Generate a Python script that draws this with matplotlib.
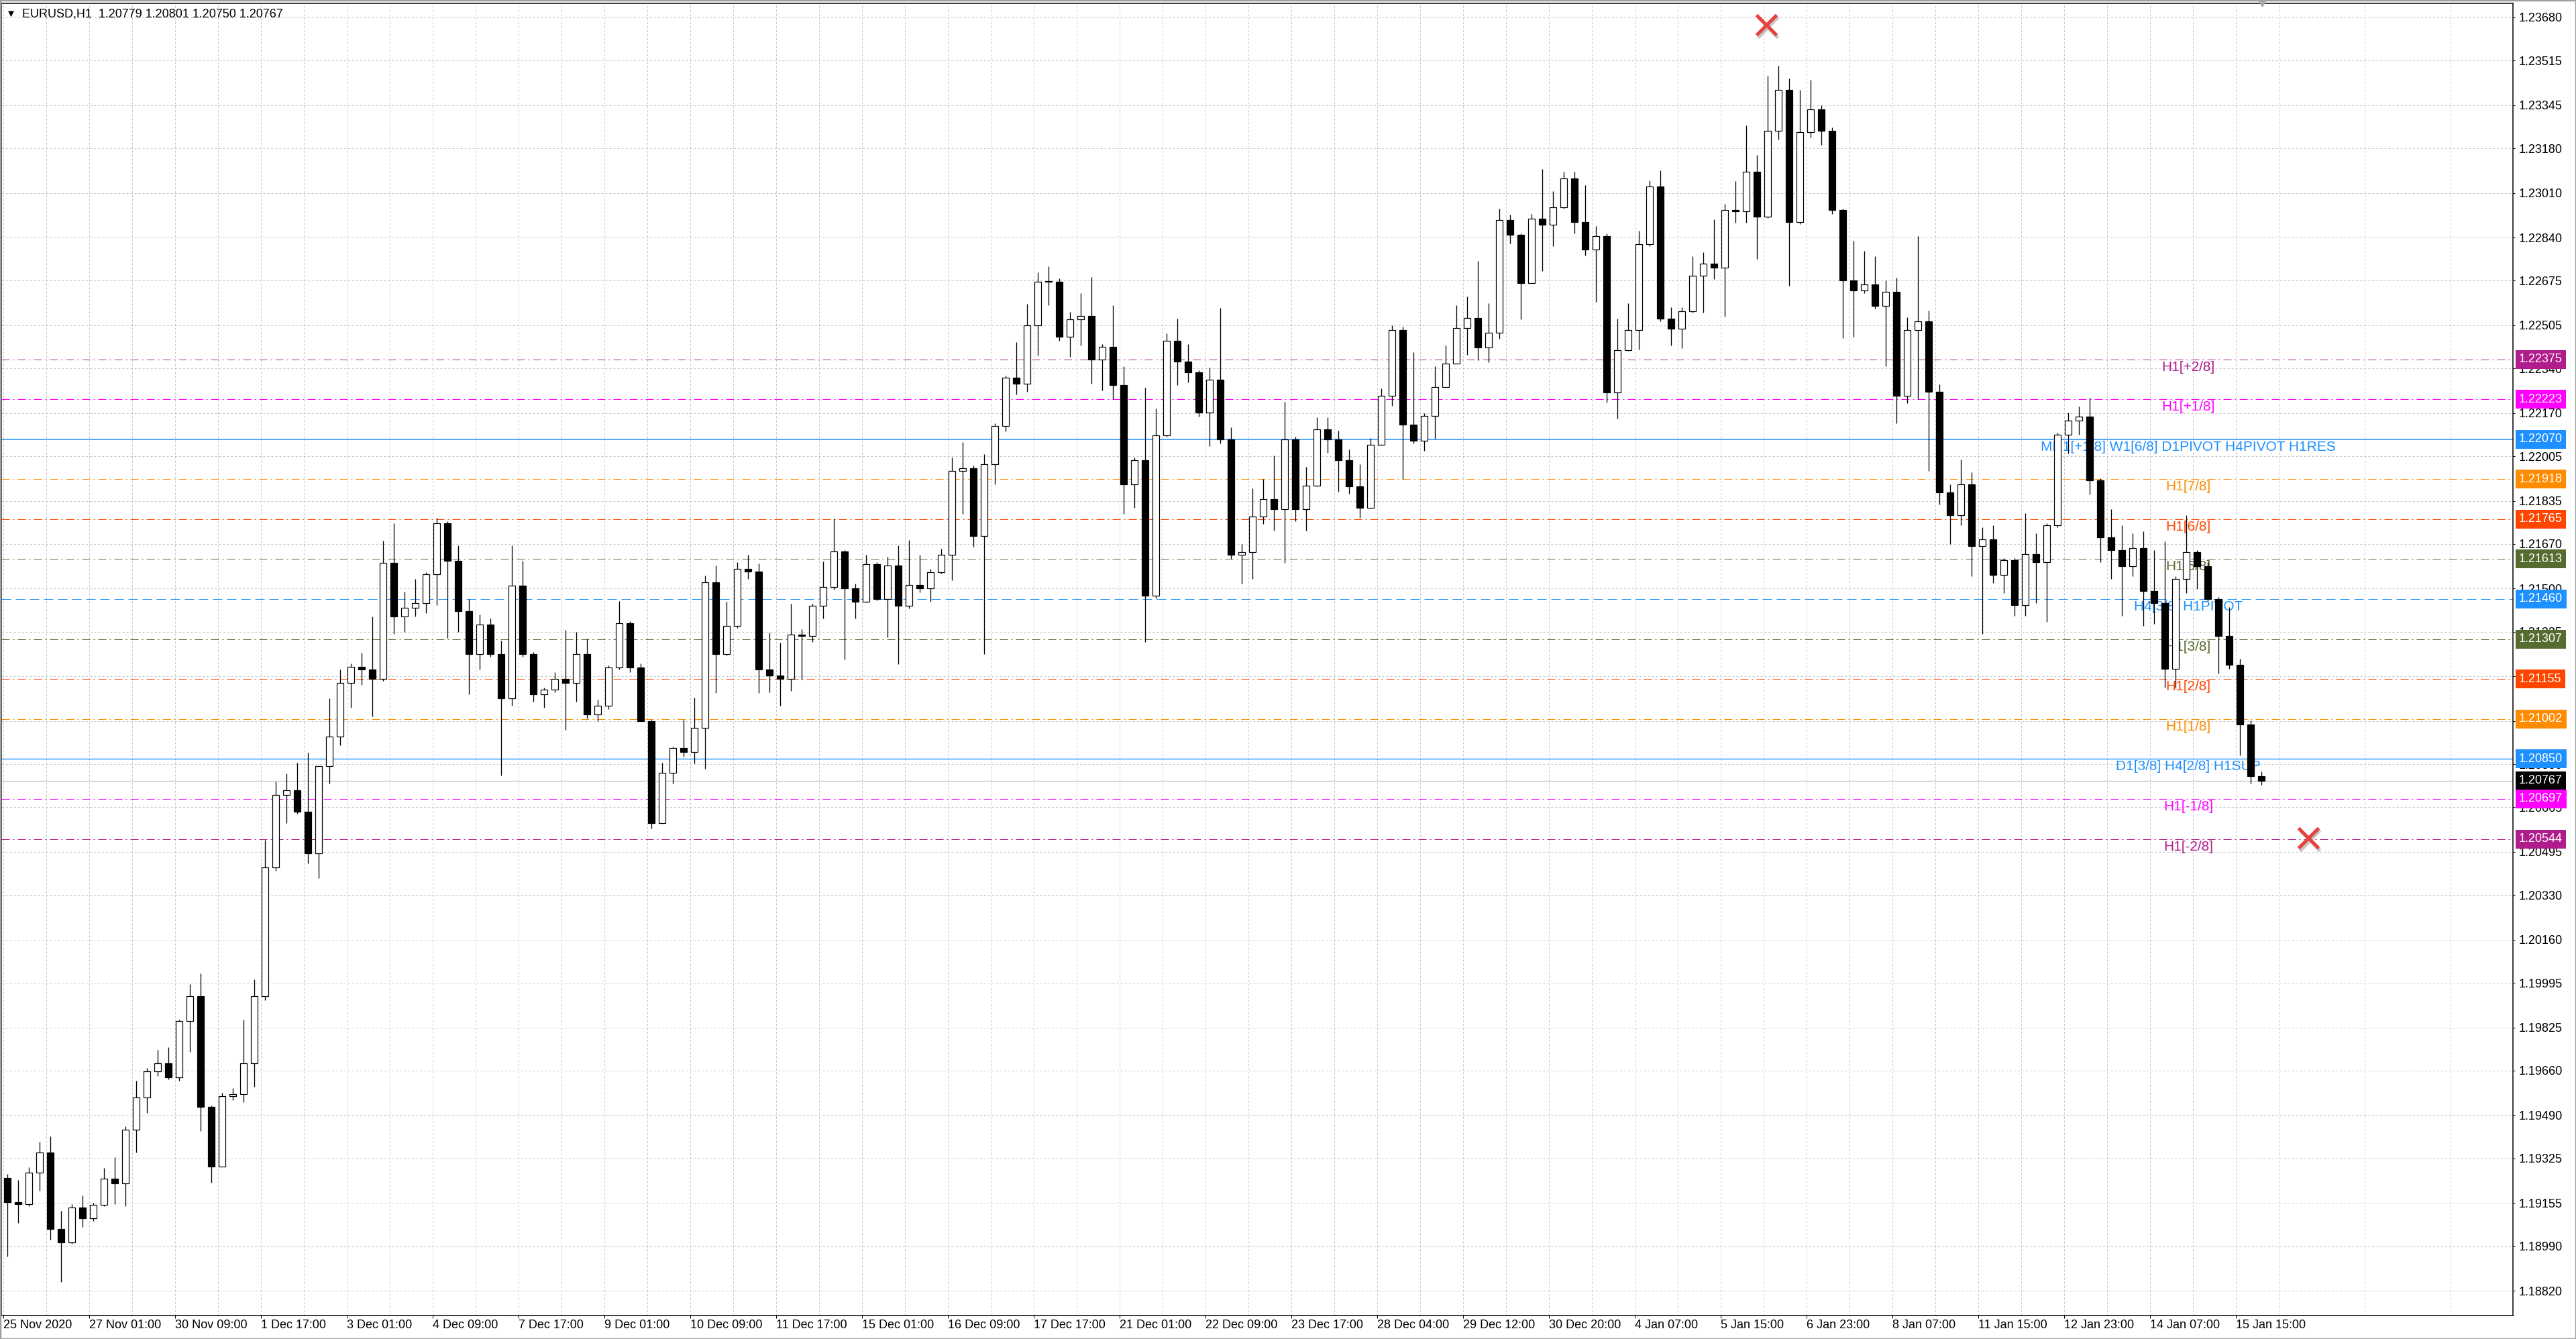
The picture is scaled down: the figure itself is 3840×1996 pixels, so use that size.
import matplotlib
matplotlib.use("Agg")
import matplotlib.pyplot as plt
import matplotlib.patheffects as pe
from matplotlib.patches import Rectangle
import numpy as np

plt.rcParams['font.family'] = ['Liberation Sans', 'DejaVu Sans']

# ------------------------------------------------------------------ data
header_text = "EURUSD,H1  1.20779 1.20801 1.20750 1.20767"
bars_per_candle = 4          # each drawn candle aggregates 4 H1 bars
first_open = 1.19250

candle_high = [
    1.19265, 1.19242, 1.19291, 1.19389, 1.19409, 1.19124, 1.19151, 1.19183, 1.19156, 1.19288,
    1.19329, 1.19448, 1.19621, 1.19670, 1.19740, 1.19749, 1.19854, 1.19991, 1.20032, 1.19526,
    1.19576, 1.19594, 1.19854, 1.20009, 1.20541, 1.20763, 1.20793, 1.20836, 1.20874, 1.20823,
    1.21080, 1.21190, 1.21215, 1.21255, 1.21393, 1.21682, 1.21750, 1.21487, 1.21538, 1.21563,
    1.21770, 1.21758, 1.21665, 1.21461, 1.21402, 1.21385, 1.21300, 1.21665, 1.21606, 1.21258,
    1.21122, 1.21182, 1.21343, 1.21334, 1.21309, 1.21075, 1.21207, 1.21453, 1.21376, 1.21215,
    1.20998, 1.20836, 1.20896, 1.20998, 1.21084, 1.21549, 1.21587, 1.21451, 1.21600, 1.21630,
    1.21596, 1.21331, 1.21293, 1.21442, 1.21344, 1.21442, 1.21604, 1.21767, 1.21647, 1.21519,
    1.21630, 1.21600, 1.21622, 1.21664, 1.21685, 1.21630, 1.21575, 1.21652, 1.22000, 1.22060,
    1.21969, 1.22014, 1.22131, 1.22313, 1.22440, 1.22586, 1.22708, 1.22730, 1.22683, 1.22556,
    1.22627, 1.22688, 1.22434, 1.22581, 1.22348, 1.21999, 1.22267, 1.22186, 1.22475, 1.22531,
    1.22434, 1.22333, 1.22343, 1.22571, 1.22116, 1.21670, 1.21883, 1.21918, 1.22009, 1.22212,
    1.22080, 1.21965, 1.22154, 1.22154, 1.22102, 1.22031, 1.21974, 1.22074, 1.22263, 1.22505,
    1.22500, 1.22401, 1.22169, 1.22349, 1.22429, 1.22581, 1.22614, 1.22751, 1.22590, 1.22950,
    1.22926, 1.22855, 1.22931, 1.23101, 1.23016, 1.23092, 1.23092, 1.23040, 1.22884, 1.22855,
    1.22531, 1.22590, 1.22865, 1.23059, 1.23097, 1.22574, 1.22574, 1.22768, 1.22784, 1.22908,
    1.22968, 1.23054, 1.23269, 1.23156, 1.23458, 1.23496, 1.23447, 1.23404, 1.23442, 1.23345,
    1.23259, 1.22951, 1.22827, 1.22790, 1.22768, 1.22677, 1.22687, 1.22536, 1.22844, 1.22560,
    1.22280, 1.21898, 1.21993, 1.21945, 1.21734, 1.21742, 1.21616, 1.21616, 1.21789, 1.21710,
    1.21749, 1.22094, 1.22173, 1.22196, 1.22228, 1.21922, 1.21804, 1.21742, 1.21710, 1.21718,
    1.21648, 1.21679, 1.21546, 1.21781, 1.21648, 1.21600, 1.21467, 1.21428, 1.21232, 1.20997,
    1.20801,
]

candle_low = [
    1.18950, 1.19078, 1.19142, 1.19201, 1.19014, 1.18854, 1.19000, 1.19064, 1.19087, 1.19142,
    1.19151, 1.19142, 1.19347, 1.19498, 1.19640, 1.19626, 1.19621, 1.19731, 1.19430, 1.19233,
    1.19293, 1.19548, 1.19539, 1.19599, 1.19930, 1.20422, 1.20605, 1.20640, 1.20452, 1.20396,
    1.20755, 1.20901, 1.21046, 1.21131, 1.21012, 1.21148, 1.21326, 1.21334, 1.21393, 1.21407,
    1.21436, 1.21312, 1.21334, 1.21097, 1.21190, 1.21241, 1.20786, 1.21054, 1.21241, 1.21068,
    1.21046, 1.21105, 1.20960, 1.21068, 1.21003, 1.20995, 1.21041, 1.21190, 1.21182, 1.20995,
    1.20585, 1.20606, 1.20755, 1.20858, 1.20832, 1.20811, 1.21101, 1.21246, 1.21349, 1.21536,
    1.21101, 1.21105, 1.21054, 1.21109, 1.21152, 1.21297, 1.21387, 1.21497, 1.21229, 1.21387,
    1.21446, 1.21455, 1.21314, 1.21212, 1.21425, 1.21485, 1.21451, 1.21558, 1.21532, 1.21786,
    1.21660, 1.21250, 1.21898, 1.22100, 1.22242, 1.22252, 1.22389, 1.22581, 1.22445, 1.22384,
    1.22429, 1.22283, 1.22257, 1.22222, 1.21786, 1.21807, 1.21295, 1.21462, 1.22080, 1.22278,
    1.22288, 1.22156, 1.22045, 1.22055, 1.21614, 1.21518, 1.21538, 1.21746, 1.21721, 1.21599,
    1.21757, 1.21720, 1.21889, 1.22017, 1.21870, 1.21861, 1.21771, 1.21809, 1.22046, 1.22197,
    1.21918, 1.22055, 1.22027, 1.22071, 1.22268, 1.22368, 1.22391, 1.22372, 1.22363, 1.22453,
    1.22817, 1.22528, 1.22666, 1.22713, 1.22808, 1.22950, 1.22855, 1.22770, 1.22595, 1.22211,
    1.22150, 1.22407, 1.22413, 1.22806, 1.22520, 1.22429, 1.22418, 1.22553, 1.22553, 1.22682,
    1.22537, 1.22897, 1.22897, 1.22757, 1.22914, 1.23215, 1.22655, 1.22892, 1.23221, 1.23194,
    1.22930, 1.22456, 1.22461, 1.22628, 1.22569, 1.22348, 1.22132, 1.22208, 1.22224, 1.21950,
    1.21820, 1.21671, 1.21742, 1.21546, 1.21326, 1.21522, 1.21483, 1.21397, 1.21397, 1.21444,
    1.21373, 1.21734, 1.22016, 1.22087, 1.21859, 1.21600, 1.21538, 1.21397, 1.21546, 1.21357,
    1.21365, 1.21122, 1.21122, 1.21483, 1.21499, 1.21452, 1.21177, 1.21193, 1.20863, 1.20757,
    1.20750,
]

candle_close = [
    1.19158, 1.19151, 1.19270, 1.19347, 1.19055, 1.19005, 1.19137, 1.19096, 1.19148, 1.19247,
    1.19229, 1.19434, 1.19557, 1.19658, 1.19687, 1.19635, 1.19850, 1.19945, 1.19521, 1.19293,
    1.19562, 1.19571, 1.19687, 1.19945, 1.20435, 1.20712, 1.20729, 1.20648, 1.20490, 1.20823,
    1.20935, 1.21139, 1.21202, 1.21190, 1.21156, 1.21597, 1.21393, 1.21427, 1.21444, 1.21555,
    1.21750, 1.21606, 1.21414, 1.21249, 1.21363, 1.21249, 1.21080, 1.21512, 1.21249, 1.21097,
    1.21114, 1.21156, 1.21139, 1.21249, 1.21020, 1.21054, 1.21199, 1.21368, 1.21199, 1.20995,
    1.20606, 1.20798, 1.20892, 1.20875, 1.20968, 1.21523, 1.21250, 1.21357, 1.21575, 1.21566,
    1.21190, 1.21169, 1.21156, 1.21323, 1.21319, 1.21434, 1.21506, 1.21643, 1.21502, 1.21451,
    1.21592, 1.21459, 1.21588, 1.21434, 1.21513, 1.21502, 1.21562, 1.21630, 1.21950, 1.21959,
    1.21700, 1.21974, 1.22121, 1.22306, 1.22283, 1.22505, 1.22672, 1.22672, 1.22462, 1.22528,
    1.22541, 1.22374, 1.22422, 1.22278, 1.21898, 1.21991, 1.21473, 1.22085, 1.22445, 1.22366,
    1.22325, 1.22171, 1.22298, 1.22070, 1.21630, 1.21640, 1.21776, 1.21842, 1.21802, 1.22070,
    1.21804, 1.21894, 1.22109, 1.22069, 1.21989, 1.21891, 1.21809, 1.22050, 1.22235, 1.22488,
    1.22126, 1.22064, 1.22159, 1.22270, 1.22358, 1.22495, 1.22533, 1.22420, 1.22476, 1.22907,
    1.22850, 1.22666, 1.22912, 1.22888, 1.22955, 1.23065, 1.22898, 1.22794, 1.22846, 1.22249,
    1.22410, 1.22488, 1.22814, 1.23035, 1.22531, 1.22493, 1.22558, 1.22693, 1.22741, 1.22725,
    1.22946, 1.22941, 1.23091, 1.22919, 1.23248, 1.23404, 1.22898, 1.23242, 1.23329, 1.23248,
    1.22946, 1.22677, 1.22639, 1.22660, 1.22580, 1.22633, 1.22235, 1.22488, 1.22520, 1.22250,
    1.21867, 1.21781, 1.21898, 1.21663, 1.21687, 1.21553, 1.21608, 1.21436, 1.21632, 1.21600,
    1.21742, 1.22087, 1.22141, 1.22157, 1.21914, 1.21695, 1.21648, 1.21585, 1.21655, 1.21491,
    1.21444, 1.21193, 1.21538, 1.21640, 1.21585, 1.21459, 1.21318, 1.21208, 1.20981, 1.20785,
    1.20767,
]

time_labels = [
    "25 Nov 2020", "27 Nov 01:00", "30 Nov 09:00", "1 Dec 17:00", "3 Dec 01:00",
    "4 Dec 09:00", "7 Dec 17:00", "9 Dec 01:00", "10 Dec 09:00", "11 Dec 17:00",
    "15 Dec 01:00", "16 Dec 09:00", "17 Dec 17:00", "21 Dec 01:00", "22 Dec 09:00",
    "23 Dec 17:00", "28 Dec 04:00", "29 Dec 12:00", "30 Dec 20:00", "4 Jan 07:00",
    "5 Jan 15:00", "6 Jan 23:00", "8 Jan 07:00", "11 Jan 15:00", "12 Jan 23:00",
    "14 Jan 07:00", "15 Jan 15:00",
]
bars_per_label = 32

price_ticks = [
    1.23680, 1.23515, 1.23345, 1.23180, 1.23010, 1.22840, 1.22675, 1.22505, 1.22340, 1.22170,
    1.22005, 1.21835, 1.21670, 1.21500, 1.21335, 1.21165, 1.20995, 1.20830, 1.20665, 1.20495,
    1.20330, 1.20160, 1.19995, 1.19825, 1.19660, 1.19490, 1.19325, 1.19155, 1.18990, 1.18820,
]

level_prices = [1.22375, 1.22223, 1.22070, 1.21918, 1.21765, 1.21613, 1.21460,
                1.21307, 1.21155, 1.21002, 1.20850, 1.20697, 1.20544]
level_names = ["H1[+2/8]", "H1[+1/8]", "MN1[+1/8] W1[6/8] D1PIVOT H4PIVOT H1RES",
               "H1[7/8]", "H1[6/8]", "H1[5/8]", "H4[3/8] H1PIVOT", "H1[3/8]",
               "H1[2/8]", "H1[1/8]", "D1[3/8] H4[2/8] H1SUP", "H1[-1/8]", "H1[-2/8]"]
bid_price = 1.20767

signal_bar = [657, 859]
signal_price = [1.23652, 1.20548]

# ------------------------------------------------------------------ styles
PURPLE, MAGENTA, BLUE = "#B01C8C", "#FF00FF", "#1E90FF"
ORANGE, ORED, OLIVE = "#FF8C00", "#FF4500", "#556B2F"
level_colors = [PURPLE, MAGENTA, BLUE, ORANGE, ORED, OLIVE, BLUE, OLIVE, ORED,
                ORANGE, BLUE, MAGENTA, PURPLE]
DASHDOT = (0, (12, 5, 2, 5))
level_styles = [DASHDOT, DASHDOT, "-", DASHDOT, DASHDOT, DASHDOT, (0, (14, 7)),
                DASHDOT, DASHDOT, DASHDOT, "-", DASHDOT, DASHDOT]
level_widths = [0.72, 0.72, 1.1, 0.72, 0.72, 0.72, 0.72, 0.72, 0.72, 0.72, 1.0, 0.72, 0.72]

W, H, DPI = 3840, 1996, 100
PX = 72.0 / DPI   # points per pixel

fig = plt.figure(figsize=(W / DPI, H / DPI), dpi=DPI, facecolor="white")
ax_left, ax_right, ax_top, ax_bot = 2, 3746, 5, 1961
ax = fig.add_axes([ax_left / W, 1 - ax_bot / H, (ax_right - ax_left) / W, (ax_bot - ax_top) / H])
ax.set_facecolor("white")

ax.set_xlim(-0.75, 935.25)
ax.set_ylim(1.187253, 1.2373377)

# grid and ticks
ax.set_axisbelow(True)
ax.yaxis.tick_right()
ax.set_yticks(price_ticks)
ax.set_yticklabels([f"{p:.5f}" for p in price_ticks])
label_pos = np.arange(len(time_labels)) * bars_per_label
ax.set_xticks(label_pos)
ax.set_xticklabels(time_labels)
ax.set_xticks(np.arange(16, 936, 32), minor=True)
for lab in ax.get_xticklabels():
    lab.set_ha("left")
ax.grid(True, which="both", color="#C4C4C4", linestyle=(0, (3, 3)), linewidth=PX)
ax.tick_params(axis="y", which="major", direction="out", length=3 * PX, width=PX,
               pad=6 * PX, labelsize=13, colors="black")
ax.tick_params(axis="x", which="major", direction="out", length=4 * PX, width=PX,
               pad=1.5, labelsize=13, colors="black")
ax.tick_params(axis="x", which="minor", length=0)
for s in ax.spines.values():
    s.set_linewidth(1.5 * PX)
    s.set_color("black")

# level lines and labels
for p, name, c, ls, lw in zip(level_prices, level_names, level_colors, level_styles, level_widths):
    ax.axhline(p, color=c, linestyle=ls, linewidth=lw, zorder=1)
    ax.annotate(name, xy=(814.25, p), xytext=(0, -11.5 * PX), textcoords="offset points",
                ha="center", va="center", fontsize=15, color=c, zorder=2)
ax.axhline(bid_price, color="#BDBDBD", linewidth=1.2 * PX, zorder=1)

# candles
closes = np.array(candle_close)
opens = np.concatenate([[first_open], closes[:-1]])
highs = np.array(candle_high)
lows = np.array(candle_low)
centers = np.arange(len(closes)) * bars_per_candle + (bars_per_candle - 1) / 2.0
ax.vlines(centers, lows, highs, color="black", linewidth=1.3 * PX, zorder=3)
bottoms = np.minimum(opens, closes)
heights = np.maximum(np.abs(closes - opens), 0.00002)
fills = np.where(closes >= opens, "white", "black")
ax.bar(centers, heights, bottom=bottoms, width=2.4, color=fills, edgecolor="black",
       linewidth=1.2 * PX, zorder=4)

# red signal crosses
ax.plot(signal_bar, signal_price, linestyle="none", marker="x", markersize=22,
        markeredgewidth=5 * PX, color="#E8413C", zorder=6, clip_on=False,
        path_effects=[pe.SimpleLineShadow(offset=(1.5, -2.5), shadow_color="#808080", alpha=0.45),
                      pe.Normal()])

# chart-shift marker
ax.plot([len(closes) * bars_per_candle - 2.25], [1.2373377], marker="v", markersize=7,
        color="#A8A8A8", clip_on=False, zorder=6)

# right-axis price boxes
box_prices = level_prices[:11] + [bid_price] + level_prices[11:]
box_colors = level_colors[:11] + ["black"] + level_colors[11:]
for p, c in zip(box_prices, box_colors):
    ax.annotate(f"{p:.5f}", xy=(1.0, p), xycoords=("axes fraction", "data"),
                xytext=(9 * PX, 0), textcoords="offset points", ha="left", va="center",
                fontsize=13, color="white", annotation_clip=False, zorder=10,
                bbox=dict(boxstyle="square,pad=0.3", fc=c, ec="none"))

# header
fig.text(9 / W, 1 - 21 / H, "\u25BC", fontsize=11, va="center", ha="left", color="black")
fig.text(33 / W, 1 - 21 / H, header_text, fontsize=13, va="center", ha="left", color="black")

# window frame
fig.patches.append(Rectangle((0, 0), 1, 1, transform=fig.transFigure, fill=False,
                             edgecolor="#A0A0A0", linewidth=2.5))

fig.savefig("out.png", dpi=DPI, facecolor="white")
